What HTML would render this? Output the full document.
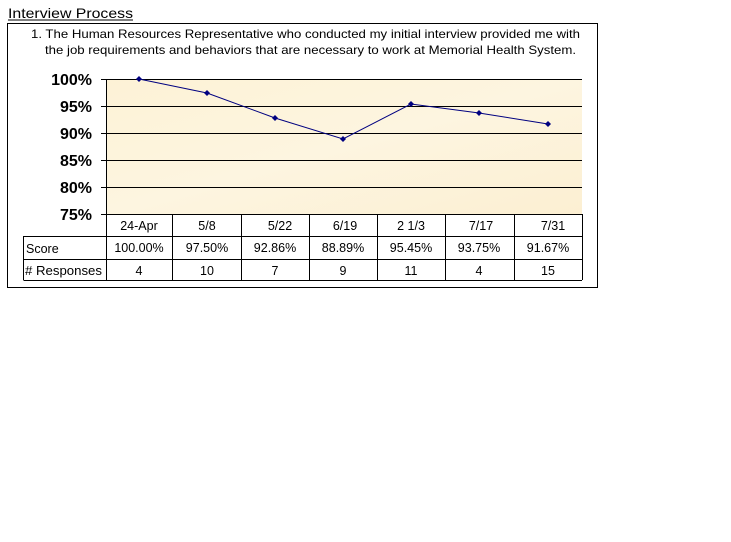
<!DOCTYPE html>
<html><head><style>
body{margin:0;background:#fff;width:731px;height:537px;overflow:hidden;font-family:"Liberation Sans",Arial,sans-serif;}
</style></head><body>
<svg width="731" height="537" xmlns="http://www.w3.org/2000/svg" font-family="Liberation Sans, Arial, sans-serif">
<defs><linearGradient id="g" x1="0" y1="0" x2="1" y2="1"><stop offset="0" stop-color="#fdf2d6"/><stop offset="0.5" stop-color="#fdf5e0"/><stop offset="1" stop-color="#fcefd2"/></linearGradient></defs>
<text x="8" y="18" font-size="14" fill="#000" textLength="125" lengthAdjust="spacingAndGlyphs">Interview Process</text>
<line x1="8" y1="20" x2="133" y2="20" stroke="#000" stroke-width="1"/>
<rect x="7.5" y="23.5" width="590" height="264" fill="#fff" stroke="#000"/>
<text x="31" y="38" font-size="12" fill="#000" textLength="549" lengthAdjust="spacingAndGlyphs">1. The Human Resources Representative who conducted my initial interview provided me with</text>
<text x="45" y="54" font-size="12" fill="#000" textLength="531" lengthAdjust="spacingAndGlyphs">the job requirements and behaviors that are necessary to work at Memorial Health System.</text>
<rect x="106" y="79" width="476" height="135" fill="url(#g)"/>
<g stroke="#000" stroke-width="1">
<line x1="101" y1="79.5" x2="582" y2="79.5"/>
<line x1="101" y1="106.5" x2="582" y2="106.5"/>
<line x1="101" y1="133.5" x2="582" y2="133.5"/>
<line x1="101" y1="160.5" x2="582" y2="160.5"/>
<line x1="101" y1="187.5" x2="582" y2="187.5"/>
<line x1="101" y1="214.5" x2="582" y2="214.5"/>
<line x1="106.5" y1="79" x2="106.5" y2="280"/>
</g>
<g font-size="16" font-weight="bold" text-anchor="end" fill="#000">
<text x="92" y="85">100%</text><text x="92" y="112">95%</text><text x="92" y="139">90%</text>
<text x="92" y="166">85%</text><text x="92" y="193">80%</text><text x="92" y="220">75%</text>
</g>
<polyline points="139,79 207,93 275,118 343,139 411,104 479,113 548,124" fill="none" stroke="#000080" stroke-width="1"/>
<g fill="#000080">
<path d="M139,76 l3,3 -3,3 -3,-3z"/><path d="M207,90 l3,3 -3,3 -3,-3z"/><path d="M275,115 l3,3 -3,3 -3,-3z"/>
<path d="M343,136 l3,3 -3,3 -3,-3z"/><path d="M411,101 l3,3 -3,3 -3,-3z"/><path d="M479,110 l3,3 -3,3 -3,-3z"/><path d="M548,121 l3,3 -3,3 -3,-3z"/>
</g>
<g stroke="#000" stroke-width="1" fill="none">
<line x1="582.5" y1="214" x2="582.5" y2="280"/>
<line x1="23.5" y1="236.5" x2="582" y2="236.5"/>
<line x1="23.5" y1="259.5" x2="582" y2="259.5"/>
<line x1="23.5" y1="280.5" x2="582" y2="280.5"/>
<line x1="23.5" y1="236" x2="23.5" y2="280"/>
<line x1="172.5" y1="214" x2="172.5" y2="280"/><line x1="241.5" y1="214" x2="241.5" y2="280"/>
<line x1="309.5" y1="214" x2="309.5" y2="280"/><line x1="377.5" y1="214" x2="377.5" y2="280"/>
<line x1="445.5" y1="214" x2="445.5" y2="280"/><line x1="514.5" y1="214" x2="514.5" y2="280"/>
</g>
<g font-size="12.5" fill="#000">
<text x="26" y="253">Score</text><text x="25" y="275" textLength="77" lengthAdjust="spacingAndGlyphs"># Responses</text>
</g>
<g font-size="12.5" fill="#000" text-anchor="middle">
<text x="139" y="230">24-Apr</text><text x="207" y="230">5/8</text><text x="280" y="230">5/22</text><text x="345" y="230">6/19</text><text x="411" y="230">2 1/3</text><text x="481" y="230">7/17</text><text x="553" y="230">7/31</text>
<text x="139" y="252">100.00%</text><text x="207" y="252">97.50%</text><text x="275" y="252">92.86%</text><text x="343" y="252">88.89%</text><text x="411" y="252">95.45%</text><text x="479" y="252">93.75%</text><text x="548" y="252">91.67%</text>
<text x="139" y="275">4</text><text x="207" y="275">10</text><text x="275" y="275">7</text><text x="343" y="275">9</text><text x="411" y="275">11</text><text x="479" y="275">4</text><text x="548" y="275">15</text>
</g>
</svg>
</body></html>
